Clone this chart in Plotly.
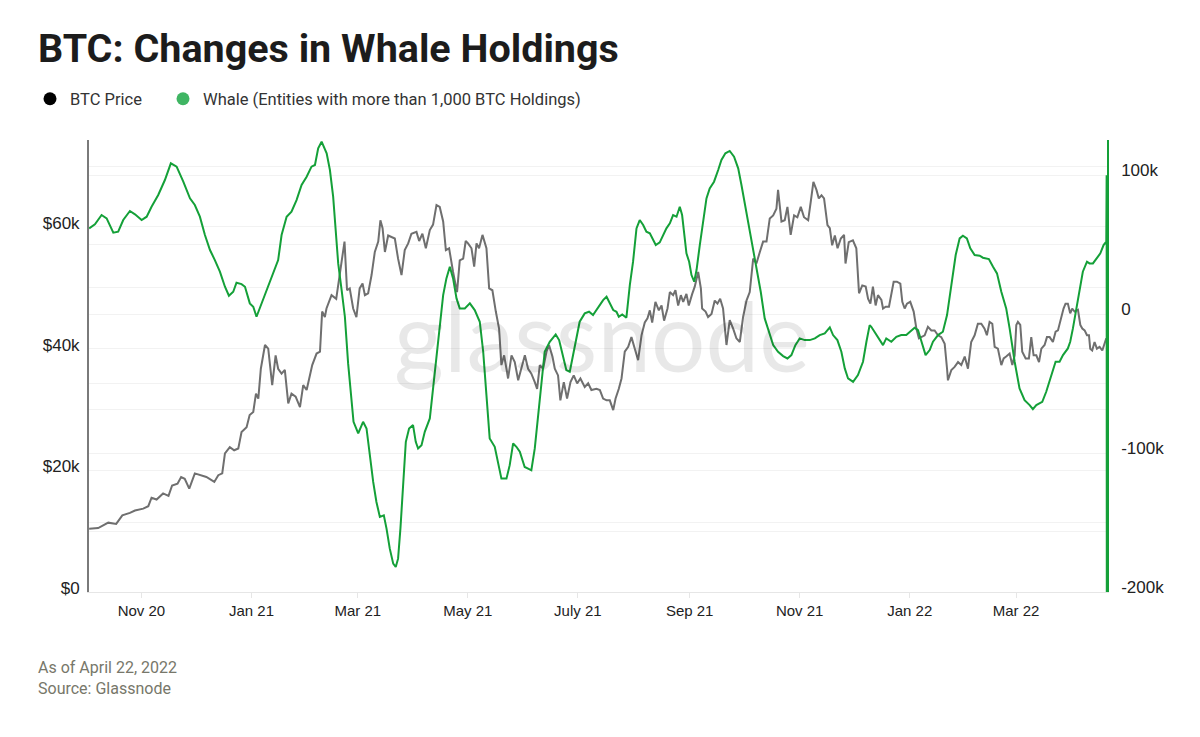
import pandas as pd
import plotly.graph_objects as go

# ---------------- data ----------------
start_date = pd.Timestamp("2020-10-03")

# BTC price: day offset from start_date, price in thousand USD
price_days = [0, 5, 10.6, 15, 18.4, 22.6, 25.4, 30, 32.8, 34.6, 37.4, 41, 44, 46, 49, 51, 53, 55.5, 58.6, 61.4,
              65, 69.4, 71.6, 73.8, 75.3, 78, 80.4, 82.7, 84.5, 87.3, 89, 91, 92.5, 93.8, 95.2, 97.5, 99.3, 101.5,
              103.4, 104.8, 106.7, 108.5, 110.4, 112.2, 114.5, 116.9, 118.7, 120.6, 123.7, 126.1, 128, 129.2,
              130.7, 131.6, 134.4, 137, 139, 141.6, 143, 144.5, 146.4, 148.2, 150, 151.6, 152.9, 154.7, 156.6,
              158.4, 160.3, 161.5, 162.7, 164, 165.8, 167.6, 169.5, 171.3, 173.2, 175, 176.9, 178.7, 181.5, 183,
              184.8, 186.7, 188.9, 190.7, 192.6, 194.4, 196.3, 197.8, 199.6, 201.8, 204, 205.5, 207.4, 208.8,
              210.1, 212, 213.5, 214.8, 216.2, 218.1, 220.3, 221.8, 223.6, 225.5, 227.3, 228.6, 230.1, 231.4,
              232.3, 234.2, 236, 237.9, 239.7, 241.6, 243.4, 245.2, 247.1, 248.4, 249.9, 251.7, 253.6, 255,
              256.9, 258.2, 260, 261.3, 263.2, 265, 266.9, 268.7, 270.6, 272.4, 274.8, 276.7, 278.5, 281.3,
              283.2, 285, 286.9, 288.7, 290.6, 291.9, 293.7, 295.2, 297, 298.9, 300.7, 302.6, 304.4, 306.3,
              308.1, 309.6, 310.9, 312.2, 314, 315.9, 317.4, 318.8, 320.7, 322, 323.8, 325.1, 326.6, 328.1,
              329.4, 331.2, 332.5, 334.4, 335.8, 337.7, 339.2, 339.9, 341.8, 343.2, 345.1, 346.9, 348.4, 349.9,
              351.5, 353.4, 355.2, 357.1, 358.9, 360.8, 362.6, 364.5, 366.3, 368.2, 370, 371.9, 373.7, 375.6,
              377.4, 379.3, 381.1, 382, 383.9, 385.7, 387.2, 389, 390.9, 392.7, 394.6, 396.4, 398.7, 400.1,
              401.6, 403.3, 404.6, 406.1, 407.5, 409.4, 410.7, 412, 413.5, 415, 416.8, 418.6, 419.4, 421.2,
              423.5, 425.4, 426.9, 428.7, 430.6, 431.9, 433.2, 434.6, 436.1, 437.4, 439.3, 440.2, 441.7, 443.5,
              444.8, 446.1, 447.9, 449.8, 450.9, 452.2, 453.5, 455.3, 457.2, 458.7, 460.1, 461.4, 463.3, 465.1,
              467, 468.8, 470.7, 472.5, 474.4, 475.7, 476.2, 478.1, 479.9, 481.8, 483.6, 485.5, 487.3, 489.1,
              491, 492.8, 494.7, 496.5, 497.8, 499.3, 500.8, 502.1, 503.9, 505.8, 507.1, 508.5, 510.4, 511.9,
              513.2, 514.1, 515, 516.3, 517.4, 519.3, 521.1, 522.4, 523.7, 525.2, 526.7, 528, 529.8, 531.1,
              532.6, 534.4, 535.9, 537.2, 539, 540.3, 541.4, 542.7, 544, 545.1, 546.4, 548.3, 549.6, 550.7,
              552, 553.3, 554.4, 555.1, 556.2, 557.5, 558.8, 560.3, 561.8, 563.1, 564]
price_k = [10.4, 10.5, 11.4, 11.2, 12.6, 13.0, 13.4, 13.7, 14.1, 15.5, 15.2, 16.2, 15.8, 17.5, 17.8, 18.9, 18.6,
           17.0, 19.5, 19.2, 18.9, 18.1, 19.2, 19.5, 22.8, 23.8, 23.3, 23.6, 26.3, 27.1, 29.1, 29.6, 32.6, 31.8,
           36.7, 40.6, 40.0, 34.0, 38.9, 36.7, 35.9, 36.5, 31.0, 32.6, 32.1, 30.4, 34.0, 33.2, 37.3, 39.2, 39.5,
           46.1, 45.2, 46.6, 48.8, 48.2, 52.1, 57.6, 49.6, 49.9, 46.6, 45.2, 49.9, 50.7, 48.8, 49.1, 52.1, 55.9,
           57.6, 61.1, 59.8, 55.9, 58.6, 58.3, 58.1, 54.8, 52.1, 56.2, 57.3, 58.9, 59.2, 57.7, 58.9, 56.5, 59.5,
           60.4, 63.6, 63.3, 60.9, 56.2, 56.5, 52.6, 49.3, 54.5, 54.8, 57.7, 57.3, 56.5, 53.5, 57.3, 56.5, 58.7,
           56.5, 49.9, 49.6, 46.1, 43.3, 37.3, 38.9, 36.7, 35.1, 38.9, 37.8, 34.8, 36.7, 38.9, 36.7, 35.9, 34.5,
           33.4, 37.3, 36.7, 39.5, 40.6, 38.7, 36.7, 35.6, 31.5, 34.5, 31.8, 34.5, 35.6, 34.3, 35.1, 33.7, 34.3,
           33.2, 33.4, 33.2, 31.8, 31.5, 31.5, 29.9, 31.8, 33.4, 35.1, 39.5, 40.3, 41.9, 40.0, 38.1, 42.2, 44.3,
           45.0, 46.3, 44.3, 47.7, 46.3, 47.1, 44.6, 46.6, 49.3, 48.8, 49.6, 47.1, 48.8, 47.7, 49.0, 47.1, 49.0,
           50.2, 52.6, 49.9, 46.6, 46.1, 45.2, 45.7, 47.9, 47.4, 48.2, 46.6, 40.6, 44.7, 43.3, 41.7, 41.1, 45.2,
           47.9, 49.3, 54.8, 54.0, 55.9, 57.6, 57.6, 61.4, 61.9, 63.0, 66.1, 60.9, 61.1, 63.3, 58.7, 61.9, 61.6,
           63.3, 61.6, 61.1, 64.1, 67.4, 66.1, 64.7, 65.2, 64.7, 60.3, 59.8, 57.0, 58.6, 56.5, 58.1, 58.7, 54.0,
           57.5, 57.8, 56.5, 49.1, 50.4, 50.2, 48.2, 47.4, 50.2, 47.1, 48.8, 48.0, 46.6, 46.9, 46.9, 48.8, 51.0,
           51.0, 50.7, 47.7, 46.6, 47.4, 47.7, 46.1, 43.3, 41.7, 41.9, 42.2, 43.6, 43.0, 43.0, 42.2, 41.9, 40.8,
           36.7, 34.8, 36.5, 37.0, 37.8, 37.3, 38.7, 36.7, 41.1, 42.2, 44.1, 44.1, 43.3, 42.2, 44.4, 44.1, 40.3,
           40.0, 37.3, 38.4, 38.7, 39.2, 37.3, 38.9, 43.9, 44.4, 43.9, 39.5, 38.4, 38.4, 41.9, 38.9, 38.9, 37.8,
           40.0, 40.6, 41.9, 41.9, 41.1, 42.8, 43.0, 45.2, 46.6, 47.4, 47.4, 45.8, 46.6, 46.1, 46.4, 43.9, 43.3,
           43.0, 42.2, 42.2, 40.0, 39.7, 41.1, 40.0, 40.3, 39.7, 41.1, 41.7]

# Whale holdings change: day offset from start_date, value in thousand BTC
whale_days = [0, 3.2, 6.9, 9.7, 13.4, 16.1, 18.9, 22.6, 25.4, 29.1, 31.9, 34.6, 38.3, 42, 45.3, 48.5, 52.2, 55.9,
              58.6, 61.4, 64.2, 67, 69.7, 72.5, 75.3, 77.5, 79.9, 81.7, 84.5, 86.4, 89.1, 91, 92.8, 95.6, 99.3,
              103, 104.8, 106.7, 109.5, 112.2, 115, 117.8, 120.6, 123.3, 125.2, 127, 128.9, 131.7, 133.5, 135.3,
              136.6, 138.1, 140, 141.8, 143.6, 145.5, 146.6, 149.2, 151.9, 153.8, 155.6, 157.5, 159.3, 161.2,
              163.4, 164.9, 166.7, 168.6, 170, 171.3, 172.6, 174.1, 175.6, 177.4, 179.6, 181.1, 182.4, 184.3,
              186.1, 188.9, 190.7, 192.6, 194.4, 196.3, 198.1, 200, 201.8, 203.7, 205.5, 208.3, 211.1, 213.8,
              216.6, 218.5, 220.3, 222.1, 224.9, 226.8, 228.6, 231.4, 233.2, 235.1, 236.9, 238.8, 241.5, 243.4,
              245.2, 247.1, 248.9, 250.8, 252.6, 255.4, 258.7, 260.6, 262.8, 264.6, 266.5, 268.3, 270.2, 272,
              274.8, 277.2, 279.4, 281.3, 283.2, 285, 286.9, 288.7, 290.6, 292.4, 293.7, 295.6, 297.9, 299.8,
              301.6, 303.5, 305.3, 307.2, 309, 310.9, 312.7, 314.2, 316.4, 318.3, 320.1, 322, 323.8, 325.7,
              327.5, 328.8, 329.9, 331.2, 332.7, 334, 335.5, 336.8, 338.6, 340.5, 342.3, 344.1, 346.5, 348.8,
              350.6, 352.8, 355.2, 357.6, 359.9, 361.7, 363.9, 366.3, 368.2, 370, 372.4, 374.6, 376.9, 379.3,
              382, 384.8, 387.2, 389.4, 391.6, 394, 396.8, 399.6, 402.4, 405.1, 407.9, 410.7, 412.5, 414.9,
              417.1, 419, 420.8, 423.6, 426.3, 429.1, 431, 432.8, 433.7, 435.6, 437.4, 440.2, 442, 444.8, 447.6,
              450.3, 453.1, 455.9, 457.7, 459.6, 461.4, 463.8, 466.1, 467.9, 470.7, 473.4, 475.7, 478.1, 480.5,
              482.7, 484.5, 486.7, 488.6, 491, 493.8, 495.6, 498.9, 501.2, 503.4, 505.8, 508.5, 510.4, 513.2,
              515.9, 518.7, 521.5, 523.3, 525.2, 528.5, 530.7, 533.5, 535.9, 538.1, 540, 542.7, 544, 545.5,
              547.3, 549.2, 551, 553.3, 554.7, 556.6, 558.8, 560.7, 562.5, 564, 564.2, 564.3]
whale_k = [61.7, 64.6, 71.3, 68.9, 58.6, 59.3, 67.7, 74.2, 71.8, 67.7, 70.1, 77.3, 85.7, 96.5, 108.5, 106.1, 95.3,
           83.3, 78.5, 70.1, 56.9, 46.1, 38.9, 30.5, 19.7, 13.2, 16.1, 22.6, 21.6, 19.7, 7.7, 5.3, -1.9, 7.7, 19.7,
           31.7, 38.9, 56.9, 70.1, 73.7, 82.1, 92.9, 98.9, 106.1, 107.3, 119.3, 124.1, 115.7, 103.7, 84.5, 60.5,
           36.5, 17.3, -1.9, -35.5, -64.3, -77.5, -85.9, -77.5, -82.3, -101.5, -120.8, -135.2, -146.0, -144.8,
           -154.4, -168.8, -179.6, -182.0, -176.0, -154.4, -120.8, -91.9, -82.3, -79.9, -91.9, -96.7, -94.3,
           -84.7, -75.1, -53.5, -29.5, -5.5, 13.7, 25.7, 34.1, 25.7, 11.3, 4.1, 4.1, 7.7, 2.9, -5.5, -27.1, -58.3,
           -89.5, -95.5, -106.3, -118.4, -118.4, -108.7, -93.1, -95.5, -99.1, -110.0, -111.2, -112.4, -96.7,
           -72.7, -48.7, -27.1, -19.9, -14.6, -18.7, -29.5, -40.3, -41.5, -29.5, -15.1, -5.5, 0.5, 1.7, -0.7, 2.9,
           6.5, 10.1, 12.5, 7.7, 2.9, 1.7, -1.9, -0.2, -2.6, 20.9, 37.7, 61.7, 67.7, 64.1, 59.3, 58.1, 53.3, 49.7,
           51.6, 56.9, 61.7, 65.3, 71.3, 70.1, 77.3, 71.3, 56.9, 43.7, 37.7, 28.1, 23.3, 31.7, 49.7, 68.9, 83.3,
           90.5, 95.3, 103.7, 110.9, 115.7, 117.4, 113.3, 104.9, 92.9, 77.3, 60.5, 44.9, 32.9, 16.1, -3.1, -12.7,
           -22.3, -27.1, -30.2, -31.9, -29.5, -22.3, -17.5, -18.7, -18.7, -17.5, -15.1, -13.9, -9.6, -15.1,
           -18.7, -27.1, -39.1, -46.3, -48.7, -43.9, -34.3, -19.9, -7.9, -9.1, -12.7, -16.3, -22.3, -17.5, -19.9,
           -16.3, -15.1, -15.1, -11.5, -9.8, -11.5, -19.9, -29.5, -25.9, -19.9, -15.1, -12.7, -0.7, 20.9, 42.5,
           54.5, 56.4, 54.5, 47.3, 42.5, 42.0, 40.6, 39.6, 34.1, 29.3, 16.1, 4.1, -10.3, -34.3, -53.5, -61.9,
           -65.5, -68.4, -65.5, -63.1, -55.9, -43.9, -34.3, -34.3, -29.5, -24.7, -19.9, -10.3, 4.1, 18.5, 30.5,
           37.7, 36.5, 36.5, 40.1, 43.7, 49.7, 52.1, 100.0, -260.0]

x_tick_dates = ["2020-11-01", "2021-01-01", "2021-03-01", "2021-05-01", "2021-07-01",
                "2021-09-01", "2021-11-01", "2022-01-01", "2022-03-01"]
x_tick_labels = ["Nov 20", "Jan 21", "Mar 21", "May 21", "July 21", "Sep 21", "Nov 21", "Jan 22", "Mar 22"]
left_grid_vals = [0, 10000, 20000, 30000, 40000, 50000, 60000, 70000]
left_grid_labels = ["$0", "", "$20k", "", "$40k", "", "$60k", ""]
right_grid_vals = [-200000, -150000, -100000, -50000, 0, 50000, 100000]
right_grid_labels = ["-200k", "", "-100k", "", "0", "", "100k"]

# ---------------- build ----------------
price_dates = start_date + pd.to_timedelta(price_days, unit="D")
price_vals = [v * 1000 for v in price_k]
whale_dates = start_date + pd.to_timedelta(whale_days, unit="D")
whale_vals = [v * 1000 for v in whale_k]

GREEN = "#14a038"
GRAY = "#6f6f6f"

fig = go.Figure()
fig.add_trace(go.Scatter(x=price_dates, y=price_vals, mode="lines", name="BTC Price",
                         line=dict(color=GRAY, width=2), showlegend=False, yaxis="y"))
fig.add_trace(go.Scatter(x=whale_dates, y=whale_vals, mode="lines",
                         name="Whale (Entities with more than 1,000 BTC Holdings)",
                         line=dict(color=GREEN, width=2), showlegend=False, yaxis="y2"))
# legend entries (dots)
fig.add_trace(go.Scatter(x=[None], y=[None], mode="markers", name="BTC Price",
                         marker=dict(color="#000000", size=13), showlegend=True, legend="legend"))
fig.add_trace(go.Scatter(x=[None], y=[None], mode="markers",
                         name="Whale (Entities with more than 1,000 BTC Holdings)",
                         marker=dict(color="#3fb563", size=13), showlegend=True, legend="legend2"))

x_start = start_date - pd.Timedelta(hours=2)
x_end = start_date + pd.Timedelta(days=564.4)

# page has an 8px body margin, so the figure is drawn 8px lower/right
W, H = 1192, 729
PW, PH = 1018, 452  # plot area size in px

legend_font = dict(family="Roboto, sans-serif", size=16.5, color="#333333")

fig.update_layout(
    width=W, height=H,
    margin=dict(l=81, r=93, t=132, b=145, autoexpand=False),
    paper_bgcolor="white", plot_bgcolor="white",
    title=dict(text="<b>BTC: Changes in Whale Holdings</b>", x=30 / W, xanchor="left",
               y=1 - 40 / H, yanchor="middle",
               font=dict(family="Roboto, sans-serif", size=39.5, color="#1c1c1c")),
    legend=dict(orientation="h", x=-59 / PW, xanchor="left", y=1 + 41 / PH, yanchor="middle",
                font=legend_font, itemsizing="trace", bgcolor="rgba(0,0,0,0)"),
    legend2=dict(orientation="h", x=(163 - 89) / PW, xanchor="left", y=1 + 41 / PH, yanchor="middle",
                 font=legend_font, itemsizing="trace", bgcolor="rgba(0,0,0,0)"),
    xaxis=dict(type="date", range=[x_start, x_end], tickvals=x_tick_dates, ticktext=x_tick_labels,
               showgrid=False, showline=True, linecolor="#e6e6e6", linewidth=1,
               ticks="outside", ticklen=5, tickcolor="#e6e6e6",
               tickfont=dict(family="Liberation Sans, Arial, sans-serif", size=15, color="#222222"),
               zeroline=False),
    yaxis=dict(range=[0, 74300], tickvals=left_grid_vals, ticktext=left_grid_labels,
               showgrid=True, gridcolor="#f2f2f2", gridwidth=1, zeroline=False,
               showline=True, linecolor="#7a7a7a", linewidth=2, ticks="",
               ticklabelstandoff=4, ticklabelshift=-4,
               tickfont=dict(family="Liberation Sans, Arial, sans-serif", size=17, color="#222222")),
    yaxis2=dict(range=[-200000, 125300], overlaying="y", side="right", tickvals=right_grid_vals,
                ticktext=right_grid_labels, showgrid=True, gridcolor="#f2f2f2", gridwidth=1, zeroline=False,
                showline=True, linecolor=GREEN, linewidth=1.5, ticks="", ticklabelstandoff=9,
                ticklabelshift=-5,
                tickfont=dict(family="Liberation Sans, Arial, sans-serif", size=17, color="#222222")),
)

# watermark
fig.add_annotation(text="glassnode", xref="paper", yref="paper", x=0.5041, y=0.569,
                   xanchor="center", yanchor="middle", showarrow=False,
                   font=dict(family="Lato, sans-serif", size=96, color="rgba(0,0,0,0.09)"))
# footer
fig.add_annotation(text="As of April 22, 2022<br>Source: Glassnode", xref="paper", yref="paper",
                   x=-53 / PW, y=-(656 - 592) / PH, xanchor="left", yanchor="top",
                   align="left", showarrow=False,
                   font=dict(family="Roboto, sans-serif", size=16, color="#77776a"))

fig.write_html("out.html")
